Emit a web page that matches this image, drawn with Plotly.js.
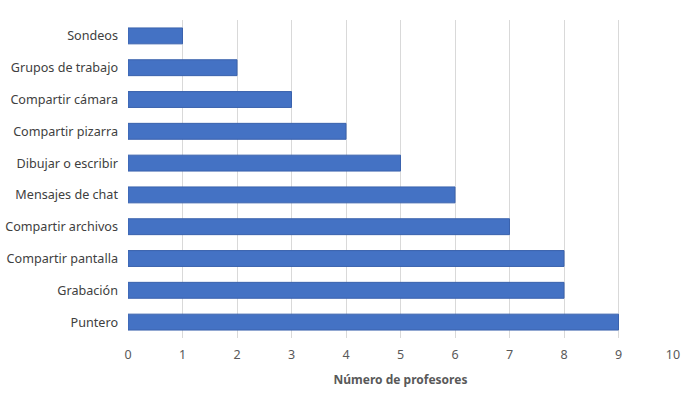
<!DOCTYPE html>
<html>
<head>
<meta charset="utf-8">
<script src="https://cdn.plot.ly/plotly-3.0.1.min.js"></script>
<style>html,body{margin:0;padding:0;background:#fff;}#chart{width:685px;height:394px;}</style>
</head>
<body>
<div id="chart"></div>
<script>
const categories = ["Sondeos","Grupos de trabajo","Compartir cámara","Compartir pizarra","Dibujar o escribir","Mensajes de chat","Compartir archivos","Compartir pantalla","Grabación","Puntero"];
const values = [1,2,3,4,5,6,7,8,8,9];
const xTicks = [0,1,2,3,4,5,6,7,8,9,10];

const trace = {
  type: 'bar',
  orientation: 'h',
  y: categories,
  x: values,
  width: 0.5,
  marker: {color: '#4472c4', line: {color: '#3a62ad', width: 1}},
  hoverinfo: 'x+y'
};

const layout = {
  width: 685, height: 394,
  margin: {l: 128, r: 12, t: 20, b: 56},
  paper_bgcolor: '#fff', plot_bgcolor: '#fff',
  font: {family: 'Noto Sans, Open Sans, sans-serif', size: 12, color: '#595959'},
  showlegend: false,
  bargap: 0.5,
  xaxis: {
    range: [0, 10], tickvals: xTicks, ticktext: xTicks.map(String),
    showgrid: true, gridcolor: '#d9d9d9', gridwidth: 1,
    zeroline: false, showline: false, ticks: '',
    ticklabelstandoff: 7,
    tickfont: {size: 12.5, color: '#595959'},
    title: {text: 'Número de profesores', font: {size: 12, color: '#595959', weight: 'bold'}, standoff: 14}
  },
  yaxis: {
    autorange: 'reversed', type: 'category',
    showgrid: false, zeroline: false, showline: false, ticks: '',
    ticklabelstandoff: 9,
    tickfont: {size: 12.6, color: '#404040'}
  }
};

Plotly.newPlot('chart', [trace], layout, {displayModeBar: false, staticPlot: true});
</script>
</body>
</html>
